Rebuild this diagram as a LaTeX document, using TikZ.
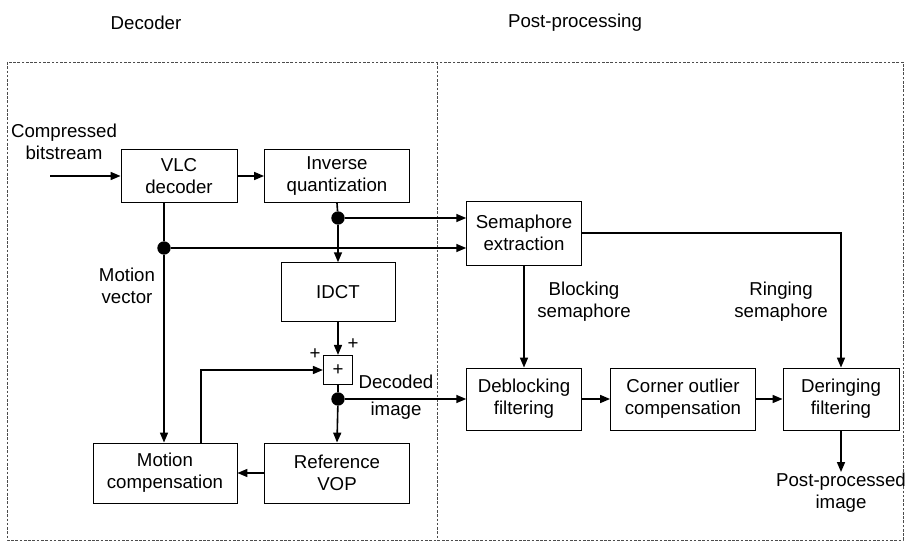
\documentclass[tikz,border=0pt]{standalone}
\usepackage{fontspec}
\setmainfont{Liberation Sans}
\usepackage{tikz}
\usetikzlibrary{arrows.meta}

\tikzset{
  blk/.style={draw, line width=0.6pt, align=center, inner sep=2pt},
  lbl/.style={align=center, inner sep=0.75pt},
  dot/.style={circle, fill=black, inner sep=0pt, minimum size=10pt},
  arr/.style={line width=1.2pt, -{Triangle[length=7.5pt,width=6pt]}},
  ln/.style={line width=1.2pt},
  frame/.style={dashed, line width=0.45pt, dash pattern=on 2pt off 1.2pt, black!70}
}

\begin{document}
\begin{tikzpicture}[x=0.75pt,y=0.75pt,yscale=-1,xscale=1,
  font=\fontsize{14}{16.5}\selectfont]
\useasboundingbox (0,0) rectangle (908,548);

%Dashed frame
\draw[frame] (7,62) rectangle (903,540);
\draw[frame] (437,62) -- (437,540);

% Text Node
\node[lbl] (hdec) at (146,23) {Decoder};
% Text Node
\node[lbl] (hpost) at (575,23) {Post-processing};

%Decoder blocks
\node[blk, minimum width=87pt, minimum height=40pt] (vlc) at (179,176) {VLC\\decoder};
\node[blk, minimum width=108.75pt, minimum height=40pt] (iq) at (337,176) {Inverse\\quantization};
\node[blk, minimum width=85.5pt, minimum height=44pt] (idct) at (338,292) {IDCT};
\node[blk, minimum width=22pt, minimum height=22pt, inner sep=0pt] (add) at (338,370) {+};
\node[blk, minimum width=108.75pt, minimum height=45pt] (ref) at (337,473) {Reference\\VOP};
\node[blk, minimum width=108pt, minimum height=45pt] (mc) at (165,473) {Motion\\compensation};

%Post-processing blocks
\node[blk, minimum width=86pt, minimum height=48pt] (sem) at (524,233) {Semaphore\\extraction};
\node[blk, minimum width=86pt, minimum height=46.5pt] (deb) at (524,399) {Deblocking\\filtering};
\node[blk, minimum width=108.75pt, minimum height=46.5pt] (cor) at (683,399) {Corner outlier\\compensation};
\node[blk, minimum width=87pt, minimum height=46.5pt] (der) at (841,399) {Deringing\\filtering};

%Junction dots
\node[dot] (jq) at (338,218) {};
\node[dot] (jv) at (164,248) {};
\node[dot] (jd) at (338,399) {};

% Text Node
\node[lbl] (cin) at (64,142) {Compressed\\bitstream};
\coordinate (cst) at (50,176);
% Text Node
\node[lbl] (mv) at (127,286) {Motion\\vector};
% Text Node
\node[lbl] (dimg) at (396,397) {Decoded\\[4pt]image};
% Text Node
\node[lbl] (bsem) at (584,302) {Blocking\\semaphore};
% Text Node
\node[lbl] (rsem) at (781,302) {Ringing\\semaphore};
% Text Node
\node[lbl] (out) at (841,493) {Post-processed\\image};
% Text Node
\node[lbl] (pa) at (353,344) {+};
\node[lbl] (pb) at (315,354) {+};

%Connectors
\draw[arr] (cst) -- (vlc.west);
\draw[arr] (vlc.east) -- (iq.west);
\draw[ln] (iq.south) -- (jq);
\draw[arr] (jq) -- (idct.north);
\draw[arr] (jq) -- (sem.west |- jq);
\draw[ln] (vlc.south -| jv) -- (jv);
\draw[arr] (jv) -- (sem.west |- jv);
\draw[arr] (jv) -- (mc.north -| jv);
\draw[arr] (idct.south) -- (add.north);
\draw[arr] ([xshift=27pt]mc.north) |- (add.west);
\draw[ln] (add.south) -- (jd);
\draw[arr] (jd) -- (ref.north);
\draw[arr] (jd) -- (deb.west);
\draw[arr] (ref.west) -- (mc.east);
\draw[arr] (sem.south) -- (deb.north);
\draw[arr] (sem.east) -| (der.north);
\draw[arr] (deb.east) -- (cor.west);
\draw[arr] (cor.east) -- (der.west);
\draw[arr] (der.south) -- (out.north);

\end{tikzpicture}
\end{document}
